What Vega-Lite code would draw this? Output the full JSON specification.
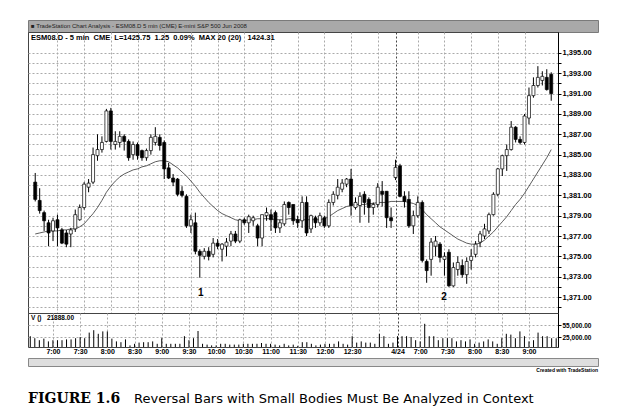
{
  "$schema": "https://vega.github.io/schema/vega-lite/v6.json",
  "padding": {"left": 27, "top": 19, "right": 0, "bottom": 0},
  "background": "white",
  "spacing": 0,
  "bounds": "flush",
  "config": {
    "view": {"stroke": "#444", "strokeWidth": 1},
    "axis": {"labelFont": "Liberation Sans", "labelFontWeight": "bold", "labelColor": "black", "titleFont": "Liberation Sans"}
  },
  "datasets": {
    "none": [],
    "marks": [{"i": 37.2, "p": 1371.4, "t": "1"}, {"i": 91.9, "p": 1371.0, "t": "2"}],
    "bars": [
      {"i":0,"o":1382.3,"h":1383.2,"l":1380.4,"c":1380.6,"v":27000,"ma":1377.2},
      {"i":1,"o":1380.5,"h":1381.7,"l":1379.2,"c":1379.5,"v":22000,"ma":1377.3},
      {"i":2,"o":1379.3,"h":1379.5,"l":1377.5,"c":1378.5,"v":17000,"ma":1377.4},
      {"i":3,"o":1378.3,"h":1378.6,"l":1376.0,"c":1377.3,"v":21000,"ma":1377.5},
      {"i":4,"o":1377.5,"h":1378.8,"l":1376.5,"c":1378.5,"v":14000,"ma":1377.5},
      {"i":5,"o":1378.6,"h":1379.1,"l":1376.0,"c":1377.8,"v":17000,"ma":1377.5},
      {"i":6,"o":1377.6,"h":1377.8,"l":1376.2,"c":1376.3,"v":17000,"ma":1377.6},
      {"i":7,"o":1377.3,"h":1377.6,"l":1375.9,"c":1376.2,"v":17000,"ma":1377.6},
      {"i":8,"o":1377.2,"h":1377.8,"l":1375.9,"c":1377.6,"v":19000,"ma":1377.7},
      {"i":9,"o":1377.7,"h":1379.6,"l":1377.4,"c":1379.1,"v":19000,"ma":1377.7},
      {"i":10,"o":1378.6,"h":1380.1,"l":1378.5,"c":1379.8,"v":22000,"ma":1377.9},
      {"i":11,"o":1379.8,"h":1382.3,"l":1379.6,"c":1382.1,"v":25000,"ma":1378.2},
      {"i":12,"o":1381.8,"h":1382.6,"l":1381.3,"c":1382.2,"v":22000,"ma":1378.7},
      {"i":13,"o":1382.3,"h":1385.7,"l":1382.1,"c":1385.0,"v":36000,"ma":1379.2},
      {"i":14,"o":1384.9,"h":1387.0,"l":1384.4,"c":1385.5,"v":42000,"ma":1379.8},
      {"i":15,"o":1385.5,"h":1386.8,"l":1385.2,"c":1386.2,"v":33000,"ma":1380.5},
      {"i":16,"o":1386.3,"h":1389.5,"l":1386.2,"c":1389.3,"v":39000,"ma":1381.3},
      {"i":17,"o":1389.3,"h":1389.6,"l":1385.5,"c":1386.3,"v":39000,"ma":1381.9},
      {"i":18,"o":1386.0,"h":1387.3,"l":1385.5,"c":1386.3,"v":21000,"ma":1382.4},
      {"i":19,"o":1386.2,"h":1387.3,"l":1385.7,"c":1386.8,"v":14000,"ma":1382.8},
      {"i":20,"o":1386.8,"h":1387.0,"l":1385.4,"c":1386.3,"v":12000,"ma":1383.1},
      {"i":21,"o":1386.3,"h":1386.5,"l":1384.4,"c":1384.7,"v":19000,"ma":1383.3},
      {"i":22,"o":1385.0,"h":1386.3,"l":1384.5,"c":1386.0,"v":4000,"ma":1383.5},
      {"i":23,"o":1386.0,"h":1386.2,"l":1384.5,"c":1384.9,"v":8000,"ma":1383.6},
      {"i":24,"o":1385.4,"h":1385.5,"l":1384.4,"c":1384.7,"v":11000,"ma":1383.8},
      {"i":25,"o":1384.7,"h":1385.6,"l":1384.4,"c":1385.4,"v":12000,"ma":1383.9},
      {"i":26,"o":1385.4,"h":1387.0,"l":1385.0,"c":1386.7,"v":12000,"ma":1384.1},
      {"i":27,"o":1386.2,"h":1387.7,"l":1385.9,"c":1386.8,"v":14000,"ma":1384.3},
      {"i":28,"o":1386.7,"h":1387.0,"l":1385.4,"c":1385.9,"v":8000,"ma":1384.4},
      {"i":29,"o":1386.2,"h":1386.4,"l":1382.6,"c":1383.6,"v":22000,"ma":1384.4},
      {"i":30,"o":1383.7,"h":1384.2,"l":1382.6,"c":1382.7,"v":8000,"ma":1384.3},
      {"i":31,"o":1382.7,"h":1383.1,"l":1381.9,"c":1382.3,"v":8000,"ma":1384.0},
      {"i":32,"o":1382.6,"h":1382.7,"l":1380.9,"c":1381.1,"v":8000,"ma":1383.7},
      {"i":33,"o":1381.4,"h":1381.9,"l":1380.8,"c":1381.0,"v":8000,"ma":1383.3},
      {"i":34,"o":1380.9,"h":1381.1,"l":1377.8,"c":1378.0,"v":27000,"ma":1382.9},
      {"i":35,"o":1378.0,"h":1379.1,"l":1377.3,"c":1378.6,"v":17000,"ma":1382.4},
      {"i":36,"o":1378.3,"h":1379.3,"l":1375.2,"c":1375.5,"v":22000,"ma":1381.9},
      {"i":37,"o":1375.5,"h":1375.7,"l":1372.9,"c":1375.1,"v":40000,"ma":1381.3},
      {"i":38,"o":1375.0,"h":1375.8,"l":1374.7,"c":1375.5,"v":8000,"ma":1380.8},
      {"i":39,"o":1375.5,"h":1375.9,"l":1374.6,"c":1375.0,"v":6000,"ma":1380.3},
      {"i":40,"o":1375.2,"h":1376.8,"l":1374.9,"c":1376.3,"v":4000,"ma":1379.9},
      {"i":41,"o":1376.3,"h":1376.7,"l":1375.7,"c":1376.0,"v":4000,"ma":1379.5},
      {"i":42,"o":1375.7,"h":1376.3,"l":1374.5,"c":1376.2,"v":8000,"ma":1379.2},
      {"i":43,"o":1376.0,"h":1376.8,"l":1375.0,"c":1376.4,"v":8000,"ma":1379.0},
      {"i":44,"o":1376.5,"h":1377.5,"l":1376.0,"c":1377.2,"v":6000,"ma":1378.8},
      {"i":45,"o":1377.2,"h":1377.5,"l":1376.3,"c":1376.5,"v":6000,"ma":1378.6},
      {"i":46,"o":1376.5,"h":1378.7,"l":1376.3,"c":1378.6,"v":6000,"ma":1378.5},
      {"i":47,"o":1378.6,"h":1378.8,"l":1378.1,"c":1378.3,"v":8000,"ma":1378.5},
      {"i":48,"o":1378.3,"h":1379.1,"l":1377.3,"c":1378.9,"v":8000,"ma":1378.6},
      {"i":49,"o":1378.5,"h":1379.0,"l":1378.0,"c":1378.8,"v":8000,"ma":1378.6},
      {"i":50,"o":1378.0,"h":1378.2,"l":1376.0,"c":1376.8,"v":8000,"ma":1378.7},
      {"i":51,"o":1376.8,"h":1379.1,"l":1376.0,"c":1379.1,"v":10000,"ma":1378.7},
      {"i":52,"o":1379.0,"h":1379.8,"l":1378.5,"c":1379.3,"v":8000,"ma":1378.7},
      {"i":53,"o":1379.1,"h":1379.6,"l":1377.5,"c":1378.6,"v":8000,"ma":1378.7},
      {"i":54,"o":1379.3,"h":1379.5,"l":1377.3,"c":1377.8,"v":6000,"ma":1378.6},
      {"i":55,"o":1377.8,"h":1378.6,"l":1377.3,"c":1378.3,"v":4000,"ma":1378.6},
      {"i":56,"o":1378.2,"h":1380.4,"l":1378.0,"c":1380.1,"v":8000,"ma":1378.6},
      {"i":57,"o":1380.3,"h":1380.4,"l":1379.1,"c":1379.8,"v":4000,"ma":1378.7},
      {"i":58,"o":1380.1,"h":1380.1,"l":1378.1,"c":1378.5,"v":6000,"ma":1378.7},
      {"i":59,"o":1378.6,"h":1379.0,"l":1377.8,"c":1378.3,"v":3000,"ma":1378.6},
      {"i":60,"o":1378.5,"h":1380.9,"l":1377.8,"c":1380.3,"v":12000,"ma":1378.6},
      {"i":61,"o":1380.3,"h":1380.9,"l":1377.0,"c":1377.3,"v":12000,"ma":1378.6},
      {"i":62,"o":1377.7,"h":1379.1,"l":1377.3,"c":1379.0,"v":8000,"ma":1378.6},
      {"i":63,"o":1378.8,"h":1379.0,"l":1377.8,"c":1378.3,"v":4000,"ma":1378.6},
      {"i":64,"o":1378.3,"h":1379.3,"l":1378.0,"c":1379.0,"v":6000,"ma":1378.6},
      {"i":65,"o":1378.8,"h":1379.0,"l":1377.8,"c":1378.0,"v":8000,"ma":1378.7},
      {"i":66,"o":1378.0,"h":1380.6,"l":1377.8,"c":1380.3,"v":8000,"ma":1378.9},
      {"i":67,"o":1380.3,"h":1381.4,"l":1380.0,"c":1381.1,"v":8000,"ma":1379.2},
      {"i":68,"o":1381.0,"h":1382.6,"l":1380.6,"c":1381.8,"v":14000,"ma":1379.5},
      {"i":69,"o":1381.6,"h":1382.6,"l":1381.3,"c":1382.2,"v":8000,"ma":1379.7},
      {"i":70,"o":1382.1,"h":1382.7,"l":1381.8,"c":1382.6,"v":6000,"ma":1379.9},
      {"i":71,"o":1382.6,"h":1383.6,"l":1379.0,"c":1380.0,"v":27000,"ma":1380.0},
      {"i":72,"o":1379.8,"h":1380.8,"l":1379.6,"c":1380.3,"v":11000,"ma":1380.1},
      {"i":73,"o":1380.0,"h":1381.3,"l":1378.3,"c":1380.9,"v":14000,"ma":1380.1},
      {"i":74,"o":1381.1,"h":1381.4,"l":1379.1,"c":1380.3,"v":11000,"ma":1380.1},
      {"i":75,"o":1380.6,"h":1380.8,"l":1378.3,"c":1379.8,"v":11000,"ma":1380.2},
      {"i":76,"o":1379.8,"h":1380.3,"l":1379.1,"c":1380.1,"v":8000,"ma":1380.2},
      {"i":77,"o":1380.1,"h":1382.2,"l":1379.8,"c":1381.8,"v":33000,"ma":1380.3},
      {"i":78,"o":1381.4,"h":1382.4,"l":1379.9,"c":1381.1,"v":27000,"ma":1380.3},
      {"i":79,"o":1381.4,"h":1381.4,"l":1377.8,"c":1378.8,"v":8000,"ma":1380.3},
      {"i":80,"o":1378.8,"h":1379.8,"l":1377.8,"c":1378.5,"v":11000,"ma":1380.4},
      {"i":81,"o":1382.75,"h":1384.5,"l":1382.5,"c":1383.75,"v":27000,"ma":1380.4},
      {"i":82,"o":1383.9,"h":1384.1,"l":1380.8,"c":1380.9,"v":27000,"ma":1380.4},
      {"i":83,"o":1380.9,"h":1381.4,"l":1379.8,"c":1380.4,"v":27000,"ma":1380.4},
      {"i":84,"o":1380.6,"h":1381.4,"l":1377.8,"c":1378.0,"v":25000,"ma":1380.3},
      {"i":85,"o":1378.0,"h":1379.5,"l":1377.2,"c":1379.0,"v":17000,"ma":1380.2},
      {"i":86,"o":1379.0,"h":1380.9,"l":1378.8,"c":1380.3,"v":14000,"ma":1380.0},
      {"i":87,"o":1380.3,"h":1380.5,"l":1374.4,"c":1374.6,"v":58000,"ma":1379.6},
      {"i":88,"o":1374.5,"h":1374.7,"l":1372.4,"c":1373.6,"v":27000,"ma":1379.1},
      {"i":89,"o":1374.7,"h":1376.8,"l":1373.1,"c":1376.4,"v":27000,"ma":1378.7},
      {"i":90,"o":1376.0,"h":1377.0,"l":1375.0,"c":1376.5,"v":17000,"ma":1378.3},
      {"i":91,"o":1376.2,"h":1376.4,"l":1374.4,"c":1374.9,"v":22000,"ma":1377.9},
      {"i":92,"o":1374.7,"h":1375.4,"l":1373.1,"c":1375.0,"v":22000,"ma":1377.6},
      {"i":93,"o":1375.4,"h":1375.7,"l":1372.0,"c":1372.1,"v":22000,"ma":1377.3},
      {"i":94,"o":1372.1,"h":1374.4,"l":1372.0,"c":1373.9,"v":14000,"ma":1377.0},
      {"i":95,"o":1373.7,"h":1375.0,"l":1373.1,"c":1374.4,"v":17000,"ma":1376.7},
      {"i":96,"o":1374.1,"h":1374.7,"l":1372.9,"c":1373.2,"v":14000,"ma":1376.5},
      {"i":97,"o":1373.2,"h":1374.9,"l":1372.3,"c":1374.5,"v":19000,"ma":1376.3},
      {"i":98,"o":1374.6,"h":1375.7,"l":1373.7,"c":1375.0,"v":8000,"ma":1376.2},
      {"i":99,"o":1375.2,"h":1376.5,"l":1374.9,"c":1376.2,"v":11000,"ma":1376.2},
      {"i":100,"o":1376.4,"h":1377.5,"l":1375.9,"c":1377.2,"v":14000,"ma":1376.3},
      {"i":101,"o":1377.0,"h":1378.2,"l":1376.7,"c":1377.7,"v":19000,"ma":1376.6},
      {"i":102,"o":1377.5,"h":1379.3,"l":1377.2,"c":1379.1,"v":14000,"ma":1377.0},
      {"i":103,"o":1379.1,"h":1381.3,"l":1379.0,"c":1381.1,"v":8000,"ma":1377.4},
      {"i":104,"o":1381.1,"h":1383.7,"l":1380.9,"c":1383.6,"v":22000,"ma":1377.9},
      {"i":105,"o":1383.6,"h":1385.0,"l":1382.9,"c":1384.9,"v":33000,"ma":1378.4},
      {"i":106,"o":1384.9,"h":1386.0,"l":1383.4,"c":1385.5,"v":31000,"ma":1378.9},
      {"i":107,"o":1385.5,"h":1388.3,"l":1385.4,"c":1387.7,"v":22000,"ma":1379.5},
      {"i":108,"o":1387.7,"h":1387.8,"l":1386.2,"c":1386.5,"v":39000,"ma":1380.1},
      {"i":109,"o":1386.5,"h":1386.8,"l":1386.0,"c":1386.2,"v":27000,"ma":1380.6},
      {"i":110,"o":1386.2,"h":1389.0,"l":1386.0,"c":1388.8,"v":14000,"ma":1381.2},
      {"i":111,"o":1388.6,"h":1391.6,"l":1388.0,"c":1390.8,"v":17000,"ma":1381.9},
      {"i":112,"o":1390.8,"h":1392.6,"l":1390.6,"c":1391.8,"v":36000,"ma":1382.6},
      {"i":113,"o":1391.8,"h":1393.7,"l":1391.6,"c":1392.6,"v":27000,"ma":1383.3},
      {"i":114,"o":1392.3,"h":1393.2,"l":1391.8,"c":1392.7,"v":27000,"ma":1384.0},
      {"i":115,"o":1392.6,"h":1393.4,"l":1391.3,"c":1391.4,"v":22000,"ma":1384.7},
      {"i":116,"o":1392.9,"h":1393.1,"l":1390.3,"c":1391.0,"v":21888,"ma":1385.5}
    ]
  },
  "vconcat": [
    {
      "width": 570, "height": 12,
      "view": {"fill": "#a9a9a9", "stroke": "#7a7a7a"},
      "data": {"name": "none"},
      "mark": "point",
      "title": {"text": "■ TradeStation Chart Analysis - ESM08.D 5 min (CME) E-mini S&P 500 Jun 2008", "orient": "top", "anchor": "start", "offset": -9, "fontSize": 6, "fontWeight": "normal", "color": "#222", "font": "Liberation Sans", "dx": 3}
    },
    {
      "width": 530, "height": 281,
      "title": {"text": "ESM08.D - 5 min\u00a0\u00a0CME\u00a0\u00a0L=1425.75\u00a0\u00a01.25\u00a0\u00a00.09%\u00a0\u00a0MAX 20 (20)\u00a0\u00a0\u00a01424.31", "orient": "top", "anchor": "start", "offset": -9, "fontSize": 7.5, "fontWeight": "bold", "font": "Liberation Sans", "color": "black", "dx": 3},
      "encoding": {
        "x": {"field": "i", "type": "quantitative", "scale": {"domain": [-0.5, 116.4], "nice": false, "zero": false},
          "axis": {"values": [5,11,17,23,29,35,41,47,53,59,65,71,77,81,86,92,98,104,110], "labels": false, "ticks": false, "domain": false, "title": null, "grid": true, "gridDash": [2,2], "gridColor": {"condition": {"test": "datum.value == 81", "value": "#444"}, "value": "#aaa"}}}
      },
      "layer": [
        {
          "data": {"name": "bars"},
          "mark": {"type": "line", "color": "#333", "strokeWidth": 0.8},
          "encoding": {
            "y": {"field": "ma", "type": "quantitative", "scale": {"domain": [1369.43, 1397.06], "nice": false, "zero": false},
              "axis": {"orient": "right", "title": null, "values": [1370,1371,1372,1373,1374,1375,1376,1377,1378,1379,1380,1381,1382,1383,1384,1385,1386,1387,1388,1389,1390,1391,1392,1393,1394,1395],
                "labelExpr": "datum.value % 2 == 1 ? format(datum.value, ',.2f') : ''", "labelOverlap": false,
                "grid": true, "gridDash": [2,2], "gridColor": "#aaa", "tickSize": 3, "tickColor": "black", "domainColor": "black",
                "labelFontSize": 7.5, "labelPadding": 1}}
          }
        },
        {
          "data": {"name": "bars"},
          "mark": {"type": "rule", "color": "black", "strokeWidth": 1},
          "encoding": {"y": {"field": "l", "type": "quantitative",
              "axis": {"orient": "right", "title": null, "values": [1370,1371,1372,1373,1374,1375,1376,1377,1378,1379,1380,1381,1382,1383,1384,1385,1386,1387,1388,1389,1390,1391,1392,1393,1394,1395],
                "labelExpr": "datum.value % 2 == 1 ? format(datum.value, ',.2f') : ''", "labelOverlap": false,
                "grid": true, "gridDash": [2,2], "gridColor": "#aaa", "tickSize": 3, "tickColor": "black", "domainColor": "black",
                "labelFontSize": 7.5, "labelPadding": 1}}, "y2": {"field": "h"}}
        },
        {
          "data": {"name": "bars"},
          "mark": {"type": "bar", "size": 3, "stroke": "black", "strokeWidth": 0.7},
          "encoding": {
            "y": {"field": "o", "type": "quantitative",
              "axis": {"orient": "right", "title": null, "values": [1370,1371,1372,1373,1374,1375,1376,1377,1378,1379,1380,1381,1382,1383,1384,1385,1386,1387,1388,1389,1390,1391,1392,1393,1394,1395],
                "labelExpr": "datum.value % 2 == 1 ? format(datum.value, ',.2f') : ''", "labelOverlap": false,
                "grid": true, "gridDash": [2,2], "gridColor": "#aaa", "tickSize": 3, "tickColor": "black", "domainColor": "black",
                "labelFontSize": 7.5, "labelPadding": 1}},
            "y2": {"field": "c"},
            "fill": {"condition": {"test": "datum.c > datum.o", "value": "white"}, "value": "black"}
          }
        },
        {
          "data": {"name": "marks"},
          "mark": {"type": "text", "fontSize": 10, "fontWeight": "bold", "font": "Liberation Sans", "color": "black"},
          "encoding": {"y": {"field": "p", "type": "quantitative",
              "axis": {"orient": "right", "title": null, "values": [1370,1371,1372,1373,1374,1375,1376,1377,1378,1379,1380,1381,1382,1383,1384,1385,1386,1387,1388,1389,1390,1391,1392,1393,1394,1395],
                "labelExpr": "datum.value % 2 == 1 ? format(datum.value, ',.2f') : ''", "labelOverlap": false,
                "grid": true, "gridDash": [2,2], "gridColor": "#aaa", "tickSize": 3, "tickColor": "black", "domainColor": "black",
                "labelFontSize": 7.5, "labelPadding": 1}}, "text": {"field": "t"}}
        }
      ]
    },
    {
      "width": 530, "height": 34,
      "title": {"text": "V ()\u00a0\u00a0\u00a021888.00", "orient": "top", "anchor": "start", "offset": -8, "fontSize": 6.5, "fontWeight": "bold", "font": "Liberation Sans", "color": "black", "dx": 3},
      "data": {"name": "bars"},
      "mark": {"type": "rule", "color": "black", "strokeWidth": 1},
      "encoding": {
        "x": {"field": "i", "type": "quantitative", "scale": {"domain": [-0.5, 116.4], "nice": false, "zero": false},
          "axis": {"values": [5,11,17,23,29,35,41,47,53,59,65,71,77,81,86,92,98,104,110],
            "labelExpr": "indexof([5,11,17,23,29,35,41,47,53,59,65,71,81,86,92,98,104,110], datum.value) >= 0 ? ['7:00','7:30','8:00','8:30','9:00','9:30','10:00','10:30','11:00','11:30','12:00','12:30','4/24','7:00','7:30','8:00','8:30','9:00'][indexof([5,11,17,23,29,35,41,47,53,59,65,71,81,86,92,98,104,110], datum.value)] : ''",
            "labelOverlap": false, "ticks": false, "domain": false, "title": null, "labelFontSize": 7, "labelPadding": 0,
            "grid": true, "gridDash": [2,2], "gridColor": {"condition": {"test": "datum.value == 81", "value": "#444"}, "value": "#aaa"}}},
        "y": {"field": "v", "type": "quantitative", "scale": {"domain": [0, 85000], "nice": false},
          "axis": {"orient": "right", "title": null, "values": [25000, 55000], "format": ",.2f", "grid": true, "gridDash": [2,2], "gridColor": "#aaa", "tickSize": 3, "tickColor": "black", "domainColor": "black", "labelFontSize": 6.5, "labelPadding": 1}},
        "y2": {"datum": 0}
      }
    },
    {
      "width": 570, "height": 11,
      "view": {"stroke": null},
      "data": {"name": "none"},
      "mark": "point"
    },
    {
      "width": 570, "height": 8,
      "view": {"fill": "#dedede", "stroke": "#888"},
      "data": {"name": "none"},
      "mark": "point",
      "title": {"text": "Created with TradeStation", "orient": "bottom", "anchor": "end", "fontSize": 5, "fontWeight": "bold", "font": "Liberation Sans", "color": "black", "offset": 2}
    },
    {
      "width": 530, "height": 1,
      "view": {"stroke": null},
      "data": {"name": "none"},
      "mark": "point",
      "title": {"text": "FIGURE 1.6", "orient": "bottom", "anchor": "start", "baseline": "alphabetic", "font": "DejaVu Serif", "fontWeight": "bold", "fontSize": 14, "color": "black", "offset": 36}
    },
    {
      "width": 530, "height": 1,
      "view": {"stroke": null},
      "data": {"name": "none"},
      "mark": "point",
      "title": {"text": "Reversal Bars with Small Bodies Must Be Analyzed in Context", "orient": "bottom", "anchor": "start", "baseline": "alphabetic", "dx": 106, "fontSize": 13, "font": "DejaVu Sans", "fontWeight": "normal", "color": "black", "offset": 35}
    }
  ]
}
